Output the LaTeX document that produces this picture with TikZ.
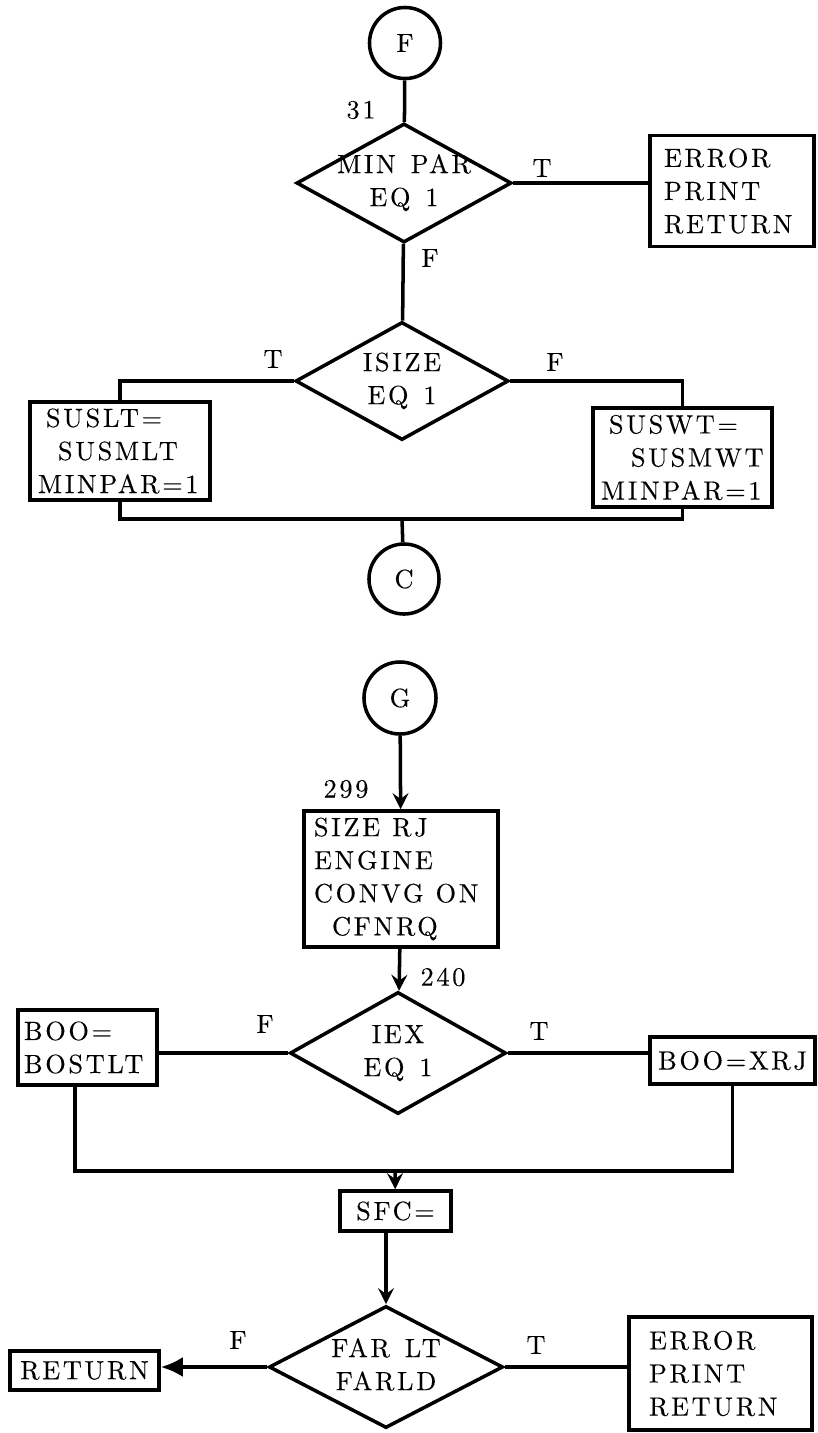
\documentclass[tikz,border=0pt]{standalone}
\usepackage{fontspec}
\usetikzlibrary{shapes.geometric,arrows.meta}
\newfontfamily\typedfont{lmroman10-regular.otf}[LetterSpace=10,WordSpace=1.3,FakeBold=0.15]
\newcommand{\twoline}[1]{\makebox[0pt]{\begin{tabular}{@{}c@{}}#1\end{tabular}}}

\begin{document}
\begin{tikzpicture}[x=0.01cm,y=-0.01cm,>=stealth,line width=1pt,
    every node/.style={font=\typedfont\fontsize{7.5}{9.4}\selectfont},
    conn/.style={draw, circle, minimum size=0.71cm, inner sep=0pt},
    test/.style={draw, diamond, aspect=2, inner sep=0pt},
    block/.style={draw, rectangle, inner sep=0pt, align=left},
    tag/.style={inner sep=1pt}]
    \useasboundingbox (0,0) rectangle (817,1433);

    % entry F
    \node (fconn) [conn] at (405,43) {F};
    \node (dminpar) [test, minimum width=2.15cm, minimum height=1.19cm] at (404,183) {\twoline{MIN PAR\\EQ 1}};
    \node (errone) [block, text width=1.36cm, inner xsep=0.14cm, minimum height=1.11cm] at (732,191) {ERROR\\PRINT\\RETURN};
    \node (lbl31) [tag] at (361,110) {31};
    \node (tone) [tag] at (542,168) {T};
    \node (fone) [tag] at (430,258) {F};
    \draw (fconn) -- (dminpar);
    \draw (dminpar.east) -- (dminpar.east -| errone.west);

    \node (disize) [test, minimum width=2.13cm, minimum height=1.18cm] at (402,381) {\twoline{ISIZE\\EQ 1}};
    \node (suslt) [block, text width=1.64cm, inner xsep=0.08cm, minimum height=0.98cm] at (120,451) {\hspace*{0.08cm}SUSLT=\\\hspace*{0.2cm}SUSMLT\\MINPAR=1};
    \node (suswt) [block, text width=1.63cm, inner xsep=0.08cm, minimum height=0.99cm] at (682.5,457.5) {\hspace*{0.08cm}SUSWT=\\\hspace*{0.3cm}SUSMWT\\MINPAR=1};
    \node (tsize) [tag] at (273,359) {T};
    \node (fsize) [tag] at (555,362) {F};
    \node (cconn) [conn, minimum size=0.70cm] at (404,579) {C};
    \draw (dminpar) -- (disize);
    \draw (disize.west) -| (suslt.north);
    \draw (disize.east) -| (suswt.north);
    \coordinate (cjoin) at (402,519);
    \draw (suslt.south) |- (cjoin);
    \draw (suswt.south) |- (cjoin);
    \draw (cjoin) -- (cconn);

    % entry G
    \node (gconn) [conn, minimum size=0.72cm] at (400,698) {G};
    \node (sizerj) [block, text width=1.74cm, inner xsep=0.10cm, minimum height=1.36cm] at (401,879) {SIZE\hspace{0.12cm}RJ\\ENGINE\\CONVG\hspace{0.12cm}ON\\\hspace*{0.18cm}CFNRQ};
    \node (lbl299) [tag] at (346,789) {299};
    \draw[->] (gconn) -- (sizerj);

    \node (diex) [test, minimum width=2.16cm, minimum height=1.22cm] at (398,1053) {\twoline{IEX\\EQ 1}};
    \node (lbl240) [tag] at (443,977) {240};
    \draw[->] (sizerj) -- (diex);
    \node (boo) [block, text width=1.27cm, inner xsep=0.06cm, minimum height=0.75cm] at (87.5,1047.5) {BOO=\\BOSTLT};
    \node (booxrj) [block, align=center, text width=1.55cm, inner xsep=0.05cm, minimum height=0.47cm] at (732.5,1060.5) {BOO=XRJ};
    \node (fiex) [tag] at (265,1024) {F};
    \node (tiex) [tag] at (539,1031) {T};
    \draw (diex.west) -- (diex.west -| boo.east);
    \draw (diex.east) -- (diex.east -| booxrj.west);
    \coordinate (sjoin) at (395,1171);
    \draw ([xshift=-0.125cm]boo.south) |- (sjoin);
    \draw (booxrj.south) |- (sjoin);
    \node (sfc) [block, align=center, text width=0.95cm, inner xsep=0.08cm, minimum height=0.40cm] at (395.5,1211) {SFC=};
    \draw[->] (sjoin) -- (sfc);

    \node (dfar) [test, minimum width=2.34cm, minimum height=1.22cm] at (386,1367) {\twoline{FAR LT\\FARLD}};
    \draw[->] (sfc.south -| dfar.north) -- (dfar.north);
    \node (ret) [block, align=center, text width=1.43cm, inner xsep=0.03cm, minimum height=0.39cm] at (84.5,1370.5) {RETURN};
    \node (errtwo) [block, text width=1.43cm, inner xsep=0.2cm, minimum height=1.13cm] at (720.5,1373.5) {ERROR\\PRINT\\RETURN};
    \node (ffar) [tag] at (238,1340) {F};
    \node (tfar) [tag] at (536,1345) {T};
    \draw[-{Latex[length=2.2mm,width=2mm]}] (dfar.west) -- (dfar.west -| ret.east);
    \draw (dfar.east) -- (dfar.east -| errtwo.west);
\end{tikzpicture}
\end{document}
